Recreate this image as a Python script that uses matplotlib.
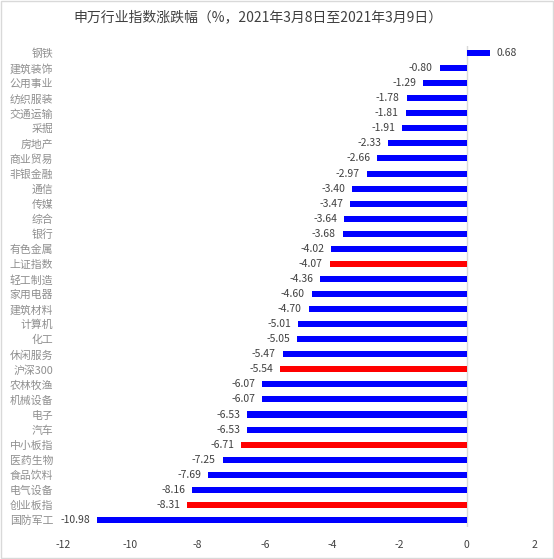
import matplotlib.pyplot as plt
from matplotlib.patches import Rectangle
import numpy as np

plt.rcParams['font.family'] = ['Noto Sans CJK SC', 'DejaVu Sans']

categories = ['钢铁', '建筑装饰', '公用事业', '纺织服装', '交通运输', '采掘', '房地产',
              '商业贸易', '非银金融', '通信', '传媒', '综合', '银行', '有色金属',
              '上证指数', '轻工制造', '家用电器', '建筑材料', '计算机', '化工',
              '休闲服务', '沪深300', '农林牧渔', '机械设备', '电子', '汽车',
              '中小板指', '医药生物', '食品饮料', '电气设备', '创业板指', '国防军工']
values = [0.68, -0.80, -1.29, -1.78, -1.81, -1.91, -2.33, -2.66, -2.97, -3.40,
          -3.47, -3.64, -3.68, -4.02, -4.07, -4.36, -4.60, -4.70, -5.01, -5.05,
          -5.47, -5.54, -6.07, -6.07, -6.53, -6.53, -6.71, -7.25, -7.69, -8.16,
          -8.31, -10.98]
index_names = ['上证指数', '沪深300', '中小板指', '创业板指']
x_ticks = [-12, -10, -8, -6, -4, -2, 0, 2]

colors = ['#ff0000' if c in index_names else '#0000ff' for c in categories]
y = np.arange(len(categories))

fig = plt.figure(figsize=(5.54, 5.59), dpi=100)
ax = fig.add_axes([0.1137, 0.0564, 0.8502, 0.8622])

ax.barh(y, values, height=0.4, color=colors)
for yi, v in zip(y, values):
    off = 5 if v > 0 else -5
    ax.annotate(f'{v:.2f}', (v, yi), xytext=(off, 0), textcoords='offset points',
                ha='left' if v > 0 else 'right', va='center',
                fontsize=7.5, color='#404040')

ax.set_xlim(-12, 2)
ax.set_ylim(len(categories) - 0.5, -0.5)
ax.set_yticks(y)
ax.set_yticklabels(categories, fontsize=7.8, color='#8f8f8f')
ax.set_xticks(x_ticks)
ax.set_xticklabels([str(t) for t in x_ticks], fontsize=7.5, color='#404040')
ax.tick_params(axis='y', length=0, pad=7)
ax.tick_params(axis='x', length=0, pad=9)
for s in ax.spines.values():
    s.set_visible(False)
ax.axvline(0, color='#d9d9d9', lw=1, zorder=0)

fig.text(0.466, 0.970, '申万行业指数涨跌幅（%，2021年3月8日至2021年3月9日）',
         ha='center', va='center', fontsize=10, color='#404040')
fig.patches.append(Rectangle((0.001, 0.001), 0.997, 0.997, transform=fig.transFigure,
                             fill=False, edgecolor='#d9d9d9', lw=1))

fig.savefig('out.png', dpi=100)
